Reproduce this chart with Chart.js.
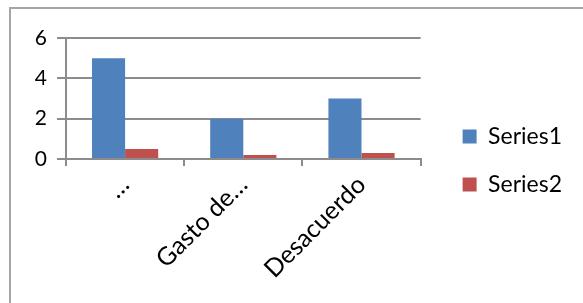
<!DOCTYPE html>
<html>
<head>
<meta charset="utf-8">
<script src="https://cdn.jsdelivr.net/npm/chart.js@4.4.1/dist/chart.umd.min.js"></script>
<style>
  html, body { margin:0; padding:0; background:#fff; }
  #wrap { position:relative; width:583px; height:303px; overflow:hidden; }
  #frame { position:absolute; left:9px; top:7px; width:700px; height:400px; border:2px solid #a6a6a6; box-sizing:border-box; }
  #wrap canvas { position:absolute; left:0; top:0; }
</style>
</head>
<body>
<div id="wrap">
  <div id="frame"></div>
  <canvas id="chart" width="583" height="303"></canvas>
</div>
<script>
const FONT = "Lato, 'Liberation Sans', sans-serif";
const categorias = ['…', 'Gasto de…', 'Desacuerdo'];
const series1 = [5, 2, 3];
const series2 = [0.5, 0.2, 0.3];
const yTicks = [0, 2, 4, 6];

const GRIS = '#8c8c8c';

// la leyenda va un poco más a la derecha que donde la deja Chart.js
Chart.register({
  id: 'moverLeyenda',
  afterLayout(chart) {
    const l = chart.legend;
    l.left += 17;
    l.right += 17;
  }
});

new Chart(document.getElementById('chart'), {
  type: 'bar',
  data: {
    labels: categorias,
    datasets: [
      { label: 'Series1', data: series1, backgroundColor: '#4f81bd', categoryPercentage: 0.56, barPercentage: 1 },
      { label: 'Series2', data: series2, backgroundColor: '#c0504d', categoryPercentage: 0.56, barPercentage: 1 }
    ]
  },
  options: {
    responsive: false,
    animation: false,
    layout: { padding: { top: 38, right: 28, left: 0, bottom: 20 } },
    plugins: {
      tooltip: { enabled: false },
      legend: {
        position: 'right',
        align: 'center',
        labels: { font: { family: FONT, size: 23 }, color: '#000', boxWidth: 14, boxHeight: 14, padding: 25 }
      }
    },
    scales: {
      x: {
        offset: true,
        grid: { offset: true, drawOnChartArea: false, color: GRIS, lineWidth: 2, tickLength: 7 },
        border: { color: GRIS, width: 2 },
        ticks: { font: { family: FONT, size: 25 }, color: '#000', minRotation: 45, maxRotation: 45, padding: 4 },
        afterFit(s) { s.height = 303 - 159 - 20; }
      },
      y: {
        min: 0, max: 6,
        afterBuildTicks(s) { s.ticks = yTicks.map(v => ({ value: v })); },
        grid: { color: GRIS, lineWidth: 2, tickLength: 9 },
        border: { color: GRIS, width: 2 },
        ticks: { font: { family: FONT, size: 21 }, color: '#000', padding: 10 },
        afterFit(s) { s.width = 66; }
      }
    }
  }
});
</script>
</body>
</html>
